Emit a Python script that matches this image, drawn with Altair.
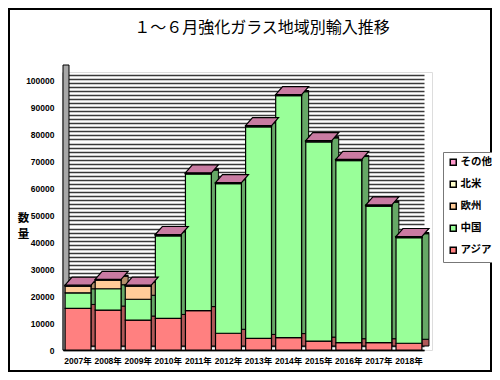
import altair as alt
import pandas as pd

years = ["2007年", "2008年", "2009年", "2010年", "2011年", "2012年",
         "2013年", "2014年", "2015年", "2016年", "2017年", "2018年"]
asia = [15400, 14800, 11100, 11700, 14600, 6200, 4300, 4600, 3300, 2700, 2700, 2500]
china = [5800, 7900, 7700, 30600, 50600, 55400, 78400, 89600, 73800, 67500, 50600, 39100]
europe = [2500, 3200, 4900, 200, 150, 150, 150, 150, 150, 150, 150, 150]
namerica = [100, 100, 100, 100, 100, 100, 100, 100, 100, 100, 100, 100]
other = [200, 200, 200, 200, 200, 200, 200, 200, 200, 200, 200, 200]

regions = ["その他", "北米", "欧州", "中国", "アジア"]          # legend order
stack_rank = {"アジア": 0, "中国": 1, "欧州": 2, "北米": 3, "その他": 4}
front_colors = ["#FF99CC", "#FFFFCC", "#FFCC99", "#99FF99", "#FF8080"]
side_colors = ["#B36B8F", "#B3B38F", "#B38F6B", "#66A866", "#B05858"]
title_text = "１～６月強化ガラス地域別輸入推移"

series = {"アジア": asia, "中国": china, "欧州": europe, "北米": namerica, "その他": other}
rows = []
for name, vals in series.items():
    for y, v in zip(years, vals):
        rows.append({"year": y, "region": name, "value": v, "rank": stack_rank[name]})
df = pd.DataFrame(rows)

FONT = "Noto Sans CJK JP"
NUMFONT = "Liberation Sans, Noto Sans CJK JP"
W, H = 369, 278
PL, PT, PR, PB = 55, 64, 60, 22

xscale = alt.Scale(domain=years, range=[0, 361], paddingInner=0.14, paddingOuter=0.07)
yscale = alt.Scale(domain=[0, 103000], nice=False)

xaxis = alt.Axis(title=None, labelAngle=0, ticks=False, labelPadding=6,
                 labelFontSize=8.5, labelFontWeight="bold", labelFont=NUMFONT,
                 labelColor="black", domainColor="black", domainWidth=1.5)
X = alt.X("year:N", scale=xscale, sort=years, axis=xaxis)

base = alt.Chart(df)

front = base.mark_bar(stroke="black", strokeWidth=1.2).encode(
    x=X,
    y=alt.Y("value:Q", stack="zero", scale=yscale,
            axis=alt.Axis(orient="left", values=list(range(0, 100001, 10000)), format="d",
                          grid=False, ticks=False,
                          labelPadding=9, labelFontSize=8.5, labelFontWeight="bold",
                          labelFont=NUMFONT, labelColor="black", domainColor="black",
                          domainWidth=1.5, title=["数", "量"], titleAngle=0,
                          titleX=-40, titleY=146, titleAlign="center",
                          titleBaseline="middle", titleFontSize=11.5,
                          titleFontWeight="bold", titleFont=FONT, titleLineHeight=16)),
    color=alt.Color("region:N", scale=alt.Scale(domain=regions, range=front_colors),
                    legend=alt.Legend(title=None, orient="none", legendX=380, legendY=80,
                                      symbolType="square", symbolSize=36,
                                      symbolStrokeColor="black", symbolStrokeWidth=1.5,
                                      labelFont=FONT, labelFontSize=10.5,
                                      labelFontWeight="bold", labelColor="black",
                                      rowPadding=9, padding=5, labelOffset=2,
                                      strokeColor="#777", fillColor="white")),
    order=alt.Order("rank:Q"),
)

side = base.mark_bar(stroke="black", strokeWidth=1, width=7, xOffset=16.5,
                     yOffset=-4, y2Offset=-4).encode(
    x=X,
    y=alt.Y("value:Q", stack="zero", scale=yscale,
            axis=alt.Axis(orient="left", values=list(range(0, 103001, 1500)), grid=True,
                          gridColor="#3a3a3a", gridWidth=1.5, labels=False,
                          ticks=False, domain=False, title=None)),
    color=alt.Color("region:N", scale=alt.Scale(domain=regions, range=side_colors),
                    legend=None),
    order=alt.Order("rank:Q"),
)

cap_path = "M -13 0 L 13 0 L 20 -8 L -6 -8 Z"
cap = base.transform_aggregate(total="sum(value)", groupby=["year"]).mark_point(
    shape=cap_path, size=4, filled=True, fill="#C97BA2", stroke="black",
    strokeWidth=1.2, opacity=1).encode(
    x=X,
    y=alt.Y("total:Q", scale=yscale, axis=None),
)

deco = alt.Data(values=[{}])
sidewall = alt.Chart(deco).mark_rect(fill="#a8a8a8", stroke="black", strokeWidth=1).encode(
    x=alt.value(0), x2=alt.value(6), y=alt.value(-7), y2=alt.value(H))

title = alt.Chart(deco).mark_text(text=title_text, font=FONT, fontSize=16,
                                  align="center", baseline="middle", color="black").encode(
    x=alt.value(199), y=alt.value(-44))

frame = alt.Chart(deco).mark_rect(filled=False, stroke="black", strokeWidth=2).encode(
    x=alt.value(-PL + 1), x2=alt.value(W + PR - 1),
    y=alt.value(-PT + 1), y2=alt.value(H + PB - 1))

chart = alt.layer(side, sidewall, front, cap, title, frame).resolve_scale(
    color="independent").resolve_axis(y="independent").properties(
    width=W, height=H,
    autosize=alt.AutoSizeParams(type="none"),
    padding={"left": PL, "top": PT, "right": PR, "bottom": PB},
).configure_view(stroke="black", strokeWidth=1).configure(background="white")

chart.save("out.html", embed_options={"renderer": "svg", "actions": False})
